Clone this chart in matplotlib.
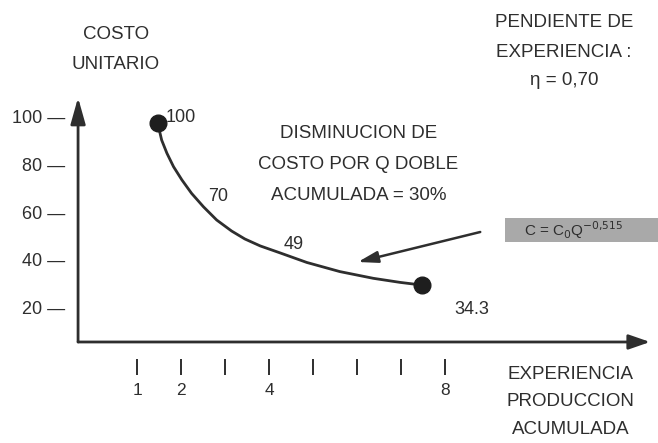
import matplotlib.pyplot as plt

# data
y_ticks = [20, 40, 60, 80, 100]
exp_ticks = [1, 2, 3, 4, 5, 6, 7, 8]
exp_labels = {1: '1', 2: '2', 4: '4', 8: '8'}

# traced learning curve (experience units, unit cost)
curve_x = [1.47, 1.56, 1.68, 1.83, 2.02, 2.24, 2.51, 2.81, 3.15, 3.45, 3.80,
           4.25, 4.86, 5.61, 6.37, 6.98, 7.47]
curve_y = [97.8, 90.8, 85.3, 79.7, 74.2, 68.6, 63.0, 57.5, 52.9, 49.6, 46.7,
           43.8, 39.8, 36.0, 33.2, 31.5, 30.4]

unit_cost = ['100', '70', '49', '34.3']
cost_label_pos = [(2.0, 100.4), (2.84, 67.1), (4.55, 47.1), (8.61, 20.0)]

ink = '#2e2e2e'
plt.rcParams['font.family'] = ['Liberation Sans', 'DejaVu Sans']

fig = plt.figure(figsize=(6.58, 4.43), dpi=100)
ax = fig.add_axes([0, 0, 1, 1])
ax.set_xlim(-2.114, 12.84)
ax.set_ylim(-35.42, 149.17)
ax.axis('off')

# axes with arrows
ax_y0, ax_x0 = 6.67, -0.34
ax.annotate('', xy=(12.66, ax_y0), xytext=(ax_x0, ax_y0),
            arrowprops=dict(arrowstyle='-|>,head_length=1.3,head_width=0.45',
                            color=ink, lw=2, shrinkA=0, shrinkB=0))
ax.annotate('', xy=(ax_x0, 108.5), xytext=(ax_x0, ax_y0),
            arrowprops=dict(arrowstyle='-|>,head_length=1.6,head_width=0.45',
                            color=ink, lw=2, shrinkA=0, shrinkB=0))

# y tick labels
for v in y_ticks:
    ax.text(-0.64, v, f'{v} —', ha='right', va='center', fontsize=13, color=ink)

# x ticks
ax.vlines(exp_ticks, -7.2, -0.3, color=ink, lw=1.4)
for k, lab in exp_labels.items():
    ax.text(k, -13.5, lab, ha='center', va='center', fontsize=12.5, color=ink)

# curve and end points
ax.plot(curve_x, curve_y, color=ink, lw=2, solid_capstyle='round')
ax.plot([curve_x[0], curve_x[-1]], [curve_y[0], curve_y[-1]], 'o',
        color='#1e1e1e', ms=12)
for lab, (lx, ly) in zip(unit_cost, cost_label_pos):
    ax.text(lx, ly, lab, ha='center', va='center', fontsize=13, color=ink)

# texts, one line at a time
def block(x, ys, lines):
    for y, s in zip(ys, lines):
        ax.text(x, y, s, ha='center', va='center', fontsize=13.5, color=ink)

block(0.52, [134.6, 122.1], ['COSTO', 'UNITARIO'])
block(10.7, [139.6, 127.5, 115.8], ['PENDIENTE DE', 'EXPERIENCIA :', 'η = 0,70'])
block(6.03, [93.75, 80.8, 67.9],
      ['DISMINUCION DE', 'COSTO POR Q DOBLE', 'ACUMULADA = 30%'])
block(10.85, [-6.67, -18.3, -30.0], ['EXPERIENCIA', 'PRODUCCION', 'ACUMULADA'])

# formula box and arrow
ax.add_patch(plt.Rectangle((9.36, 48.3), 3.5, 10.0, facecolor='#a9a9a9',
                           edgecolor='none'))
ax.text(9.8, 53.3, r'C = C$_0$Q$^{-0{,}515}$', ha='left', va='center',
        fontsize=11, color=ink)
ax.annotate('', xy=(6.02, 40.0), xytext=(8.8, 52.5),
            arrowprops=dict(arrowstyle='-|>,head_length=1.2,head_width=0.35',
                            color=ink, lw=1.8, shrinkA=0, shrinkB=0))

fig.savefig('out.png', dpi=100)
